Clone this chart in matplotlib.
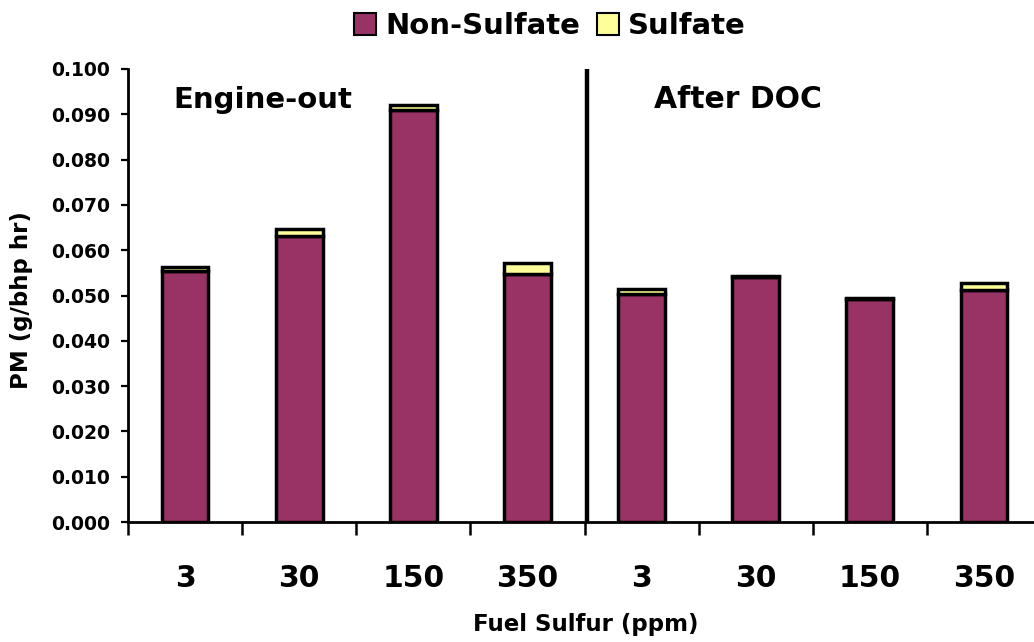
import matplotlib
matplotlib.use("Agg")
import matplotlib.pyplot as plt
import numpy as np

# Data
categories = ['3', '30', '150', '350', '3', '30', '150', '350']
non_sulfate = [0.0554, 0.0632, 0.0910, 0.0547, 0.0503, 0.0540, 0.0492, 0.0512]
sulfate = [0.0009, 0.0014, 0.0010, 0.0024, 0.0011, 0.0003, 0.0003, 0.0015]
yticks = np.arange(0, 0.1001, 0.01)

maroon = '#993366'
yellow = '#FFFF99'

plt.rcParams['font.family'] = 'DejaVu Sans'
plt.rcParams['font.weight'] = 'bold'

fig = plt.figure(figsize=(10.34, 6.42), dpi=100)
ax = fig.add_axes([128 / 1034, 1 - 522 / 642, 913 / 1034, 453 / 642])

x = np.arange(len(categories))
ax.bar(x, non_sulfate, width=0.41, color=maroon, edgecolor='black', linewidth=2.5,
       label='Non-Sulfate', zorder=2)
ax.bar(x, sulfate, width=0.41, bottom=non_sulfate, color=yellow, edgecolor='black',
       linewidth=2.5, label='Sulfate', zorder=2)

ax.axvline(3.52, color='black', linewidth=3.2, zorder=3)

ax.set_xlim(-0.5, 7.5)
ax.set_ylim(0, 0.1)

# y axis
ax.set_yticks(yticks)
ax.set_yticklabels(['%.3f' % v for v in yticks], fontsize=13.5, fontweight='bold')
ax.tick_params(axis='y', direction='out', length=5, width=1.6, pad=8)

# x axis: labels at centres, tick marks at boundaries
ax.set_xticks(x)
ax.set_xticklabels(categories, fontsize=21.5, fontweight='bold')
ax.set_xticks(np.arange(-0.5, 8, 1), minor=True)
ax.tick_params(axis='x', which='major', length=0, pad=30)
ax.tick_params(axis='x', which='minor', direction='out', length=9, width=1.8)

for s in ['top', 'right']:
    ax.spines[s].set_visible(False)
for s in ['left', 'bottom']:
    ax.spines[s].set_linewidth(2)

ax.text(-0.1, 0.0932, 'Engine-out', fontsize=21, fontweight='bold', va='center', ha='left')
ax.text(4.11, 0.0932, 'After DOC', fontsize=21.5, fontweight='bold', va='center', ha='left')

fig.text(586 / 1034, 1 - 625 / 642, 'Fuel Sulfur (ppm)', fontsize=16.5, fontweight='bold',
         ha='center', va='center')
fig.text(22 / 1034, 1 - 300 / 642, 'PM (g/bhp hr)', fontsize=16.5, fontweight='bold',
         ha='center', va='center', rotation=90)

leg = fig.legend(loc='center', bbox_to_anchor=(550 / 1034, 1 - 26 / 642), ncol=2,
                 frameon=False, fontsize=21, handlelength=0.75, handleheight=0.75,
                 handletextpad=0.3, columnspacing=0.6)
for t in leg.get_texts():
    t.set_fontweight('bold')
for h in leg.legend_handles:
    h.set_linewidth(1.5)

fig.savefig('out.png', dpi=100)
